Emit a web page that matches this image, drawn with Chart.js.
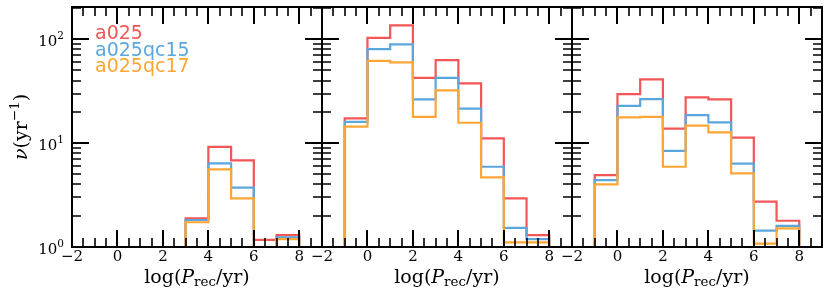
<!DOCTYPE html>
<html>
<head>
<meta charset="utf-8">
<script src="https://cdn.jsdelivr.net/npm/chart.js@4/dist/chart.umd.min.js"></script>
<style>
  html, body { margin: 0; padding: 0; background: #fff; }
  #wrap { position: relative; width: 830px; height: 296px; }
  #wrap canvas { position: absolute; left: 0; top: 0; }
</style>
</head>
<body>
<div id="wrap">
  <canvas id="panel1" width="830" height="296"></canvas>
  <canvas id="panel2" width="830" height="296"></canvas>
  <canvas id="panel3" width="830" height="296"></canvas>
</div>
<script>
// histogram bin edges, log(P_rec/yr)
var binEdges = [-1, 0, 1, 2, 3, 4, 5, 6, 7, 8];

var seriesNames = ['a025', 'a025qc15', 'a025qc17'];
var seriesColors = ['#f25656', '#5ba6dd', '#fca634'];

// rates per bin (0 = empty bin)
var panel1Red    = [0, 0, 0, 0, 1.89, 9.2, 6.82, 1.17, 1.30];
var panel1Blue   = [0, 0, 0, 0, 1.82, 6.38, 3.72, 0, 1.24];
var panel1Orange = [0, 0, 0, 0, 1.73, 5.58, 2.94, 0, 1.19];

var panel2Red    = [17.3, 103, 136, 42.5, 62.8, 37.5, 11.1, 2.94, 1.30];
var panel2Blue   = [16.0, 80.2, 89, 26.3, 42.5, 21.5, 5.92, 1.53, 1.19];
var panel2Orange = [14.4, 61.8, 59.7, 17.9, 32.1, 15.7, 4.68, 1.11, 1.11];

var panel3Red    = [4.92, 29.6, 41, 13.8, 27.5, 26.3, 11.3, 2.73, 1.79];
var panel3Blue   = [4.41, 22.8, 26.5, 8.43, 18.6, 15.8, 6.33, 1.44, 1.60];
var panel3Orange = [4.01, 17.7, 17.9, 5.92, 14.7, 12.7, 5.11, 1.08, 1.51];

var xTickLabels = [-2, 0, 2, 4, 6, 8];
var yTickLabels = [0, 1, 2]; // exponents of 10

var xRange = [-2, 9];
var yRange = [1, 204];

var FLOOR = 0.1; // below the axis, clipped away

function histPoints(values) {
    var pts = [{ x: binEdges[0], y: FLOOR }];
    for (var i = 0; i < values.length; i++) {
        pts.push({ x: binEdges[i], y: values[i] > 0 ? values[i] : FLOOR });
    }
    pts.push({ x: binEdges[binEdges.length - 1], y: FLOOR });
    return pts;
}

function drawRich(ctx, parts, x, y, align) {
    var total = 0;
    parts.forEach(function (p) { ctx.font = p.font; p.w = ctx.measureText(p.text).width; total += p.w; });
    var cx = align === 'center' ? x - total / 2 : (align === 'right' ? x - total : x);
    ctx.textAlign = 'left';
    ctx.textBaseline = 'alphabetic';
    parts.forEach(function (p) {
        ctx.font = p.font;
        ctx.fillText(p.text, cx, y + (p.dy || 0));
        cx += p.w;
    });
}

var SERIF = "'DejaVu Serif'";

var framePlugin = {
    id: 'frame',
    afterDatasetsDraw: function (chart, args, opts) {
        var ctx = chart.ctx;
        var a = chart.chartArea;
        var xs = chart.scales.x, ys = chart.scales.y;
        ctx.save();
        ctx.strokeStyle = '#000';
        ctx.fillStyle = '#000';
        ctx.lineCap = 'butt';

        // x ticks: minor every 0.5, major every 2, inward top and bottom
        for (var v = xRange[0]; v <= xRange[1] + 1e-9; v += 0.5) {
            var px = Math.round(xs.getPixelForValue(v));
            var major = xTickLabels.indexOf(v) >= 0;
            var len = major ? 17 : 9;
            ctx.lineWidth = major ? 2 : 1.6;
            ctx.beginPath();
            ctx.moveTo(px, a.bottom); ctx.lineTo(px, a.bottom - len);
            ctx.moveTo(px, a.top); ctx.lineTo(px, a.top + len);
            ctx.stroke();
        }
        // y ticks: log decades, inward left and right
        for (var e = 0; e <= 2; e++) {
            for (var k = 1; k <= 9; k++) {
                var val = k * Math.pow(10, e);
                if (val < yRange[0] || val > yRange[1]) continue;
                var py = Math.round(ys.getPixelForValue(val));
                var maj = k === 1;
                var l = maj ? 17 : 9;
                ctx.lineWidth = maj ? 2 : 1.6;
                ctx.beginPath();
                ctx.moveTo(a.left, py); ctx.lineTo(a.left + l, py);
                ctx.moveTo(a.right, py); ctx.lineTo(a.right - l, py);
                ctx.stroke();
            }
        }
        // spines
        ctx.lineWidth = 2;
        ctx.strokeRect(a.left, a.top, a.right - a.left, a.bottom - a.top);

        // x tick labels
        ctx.font = '15px ' + SERIF;
        ctx.textAlign = 'center';
        ctx.textBaseline = 'alphabetic';
        xTickLabels.forEach(function (t) {
            var s = t < 0 ? '\u2212' + (-t) : String(t);
            ctx.fillText(s, xs.getPixelForValue(t), a.bottom + 14);
        });

        // x axis title
        var mid = (a.left + a.right) / 2;
        drawRich(ctx, [
            { text: 'log(', font: '19px ' + SERIF },
            { text: 'P', font: 'italic 19px ' + SERIF },
            { text: 'rec', font: '13.5px ' + SERIF, dy: 3 },
            { text: '/yr)', font: '19px ' + SERIF }
        ], mid, 283, 'center');

        if (opts.first) {
            // y tick labels 10^n
            yTickLabels.forEach(function (n) {
                var py = ys.getPixelForValue(Math.pow(10, n));
                drawRich(ctx, [
                    { text: '10', font: '15px ' + SERIF },
                    { text: String(n), font: '10.5px ' + SERIF, dy: -7 }
                ], a.left - 8, py + 7, 'right');
            });
            // y axis title, rotated
            ctx.save();
            ctx.translate(27, (a.top + a.bottom) / 2);
            ctx.rotate(-Math.PI / 2);
            drawRich(ctx, [
                { text: '\u03bd', font: 'italic 19px ' + SERIF },
                { text: '(yr', font: '19px ' + SERIF },
                { text: '\u22121', font: '13.5px ' + SERIF, dy: -8 },
                { text: ')', font: '19px ' + SERIF }
            ], 0, 0, 'center');
            ctx.restore();

            // legend as coloured labels
            ctx.font = "19px 'DejaVu Sans'";
            ctx.textAlign = 'left';
            chart.data.datasets.forEach(function (ds, i) {
                ctx.fillStyle = ds.borderColor;
                ctx.fillText(ds.label, a.left + 23, a.top + 32 + i * 16.6);
            });
        }
        ctx.restore();
    }
};

function makePanel(id, index, red, blue, orange) {
    var left = 72 + 250 * index;
    var right = 830 - (left + 250);
    var series = [red, blue, orange];
    var datasets = series.map(function (vals, i) {
        return {
            label: seriesNames[i],
            data: histPoints(vals),
            borderColor: seriesColors[i],
            borderWidth: 2.2,
            stepped: 'before',
            pointRadius: 0,
            fill: false,
            clip: 0,
            order: 3 - i
        };
    });
    return new Chart(document.getElementById(id), {
        type: 'line',
        data: { datasets: datasets },
        options: {
            responsive: false,
            animation: false,
            layout: { padding: { left: left, right: right, top: 7, bottom: 49 } },
            plugins: {
                legend: { display: false },
                tooltip: { enabled: false },
                frame: { first: index === 0 }
            },
            scales: {
                x: { type: 'linear', min: xRange[0], max: xRange[1], display: false },
                y: { type: 'logarithmic', min: yRange[0], max: yRange[1], display: false }
            }
        },
        plugins: [framePlugin]
    });
}

makePanel('panel1', 0, panel1Red, panel1Blue, panel1Orange);
makePanel('panel2', 1, panel2Red, panel2Blue, panel2Orange);
makePanel('panel3', 2, panel3Red, panel3Blue, panel3Orange);
</script>
</body>
</html>
